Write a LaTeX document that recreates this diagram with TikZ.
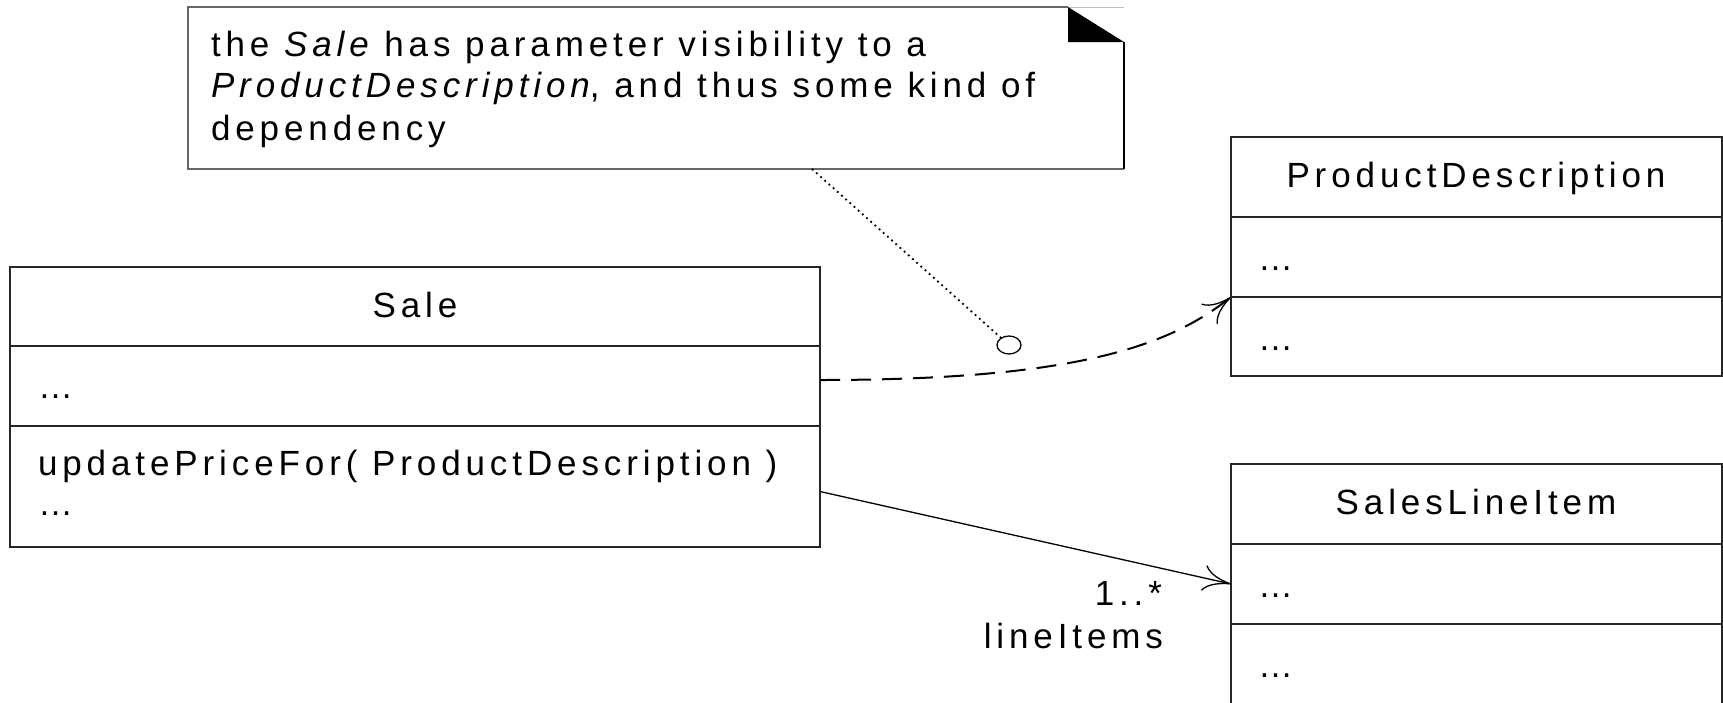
\documentclass[tikz,border=0pt]{standalone}
\usepackage{fontspec}
\setmainfont{Liberation Sans}[LetterSpace=14]
\usetikzlibrary{arrows.meta,shapes.geometric}
\begin{document}
\begin{tikzpicture}[x=1pt,y=-1pt,
  every node/.style={inner sep=0pt, outer sep=0pt, font=\fontsize{35}{42}\selectfont},
  comp/.style={draw=black!85, line width=1.5pt, anchor=north west, inner sep=0pt},
  lbl/.style={anchor=base west},
  ttl/.style={anchor=base},
  tipto/.style={-{Computer Modern Rightarrow[length=28pt,width=26pt,line width=1.3pt]}},
  dep/.style={line width=2pt, dash pattern=on 20pt off 11pt, tipto},
  assoc/.style={line width=1.3pt, tipto},
  anchorline/.style={line width=1.8pt, dash pattern=on 1.8pt off 3.8pt},
  noteline/.style={draw=black!60, line width=1.5pt}
]
\useasboundingbox (0,0) rectangle (1723,702);

% class Sale
\node[comp, minimum width=810pt, minimum height=79pt] (saleN) at (10,267) {};
\node[comp, minimum width=810pt, minimum height=80pt] (saleA) at (10,346) {};
\node[comp, minimum width=810pt, minimum height=121pt] (saleO) at (10,426) {};
\node[ttl] (saleTitle) at (415,317) {Sale};
\node[lbl] (saleAttr) at (38,398) {…};
\node[lbl] (saleOp1) at (38,475) {updatePriceFor( ProductDescription )};
\node[lbl] (saleOp2) at (38,515) {…};

% class ProductDescription
\node[comp, minimum width=491pt, minimum height=80pt] (pdN) at (1231,137) {};
\node[comp, minimum width=491pt, minimum height=80pt] (pdA) at (1231,217) {};
\node[comp, minimum width=491pt, minimum height=79pt] (pdO) at (1231,297) {};
\node[ttl] (pdTitle) at (1476,187) {ProductDescription};
\node[lbl] (pdAttr) at (1258,270) {…};
\node[lbl] (pdOp) at (1258,350) {…};

% class SalesLineItem
\node[comp, minimum width=491pt, minimum height=80pt] (sliN) at (1231,464) {};
\node[comp, minimum width=491pt, minimum height=80pt] (sliA) at (1231,544) {};
\node[comp, minimum width=491pt, minimum height=100pt] (sliO) at (1231,624) {};
\node[ttl] (sliTitle) at (1476,514) {SalesLineItem};
\node[lbl] (sliAttr) at (1258,597) {…};
\node[lbl] (sliOp) at (1258,677) {…};

% note with folded corner
\node[anchor=north west, minimum width=936pt, minimum height=162pt] (note) at (188,7) {};
\draw[noteline] ([xshift=-56pt]note.north east) -- (note.north west) -- (note.south west) -- (note.south east);
\draw[black!25, line width=1pt] ([xshift=-56pt]note.north east) -- (note.north east);
\draw[line width=1.5pt] (note.south east) -- ([yshift=-35pt]note.north east);
\fill ([xshift=-56pt]note.north east) -- ([xshift=-56pt,yshift=-35pt]note.north east) -- ([yshift=-35pt]note.north east) -- cycle;
\node[lbl] (noteL1) at (211,56) {the \textit{Sale}\kern-4pt{} has parameter visibility to a};
\node[lbl] (noteL2) at (211,97) {\textit{ProductDescription}, and thus some kind of};
\node[lbl] (noteL3) at (211,140) {dependency};

% note anchor
\coordinate (noteTail) at (812,169);
\node[draw, ellipse, line width=1.3pt, minimum width=24pt, minimum height=18pt] (noteEnd) at (1009,345) {};
\draw[anchorline] (noteTail) -- (noteEnd);

% dependency Sale -> ProductDescription
\draw[dep] ([yshift=6pt]saleA.east) .. controls +(260,0) and +(-61,48) .. (pdA.south west);

% association Sale -> SalesLineItem
\draw[assoc] ([yshift=-5pt]saleO.east) -- (sliA.west);
\node[anchor=base east] (mult) at (1162,605) {1..*};
\node[anchor=base east] (role) at (1163,648) {lineItems};
\end{tikzpicture}
\end{document}
